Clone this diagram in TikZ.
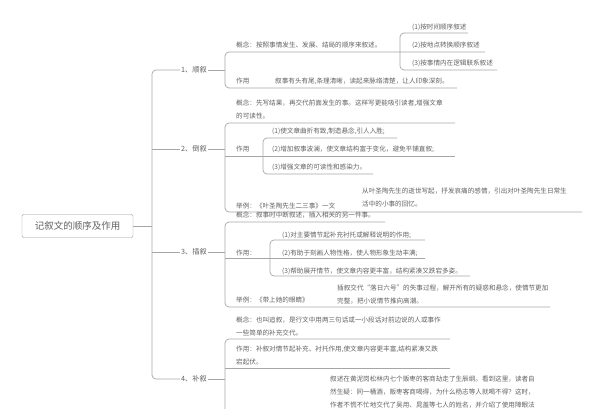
\documentclass[tikz,border=0pt]{standalone}
\usepackage{fontspec}
\setmainfont{Noto Sans CJK SC}
\begin{document}
\begin{tikzpicture}[x=1pt,y=-1pt,
  t/.style={anchor=base west,inner sep=0pt,text=black!62,font=\fontsize{6.6}{12.8}\selectfont,align=left},
  tm/.style={t,anchor=north west,yshift=6pt},
  ln/.style={draw=black!35,line width=0.7pt,rounded corners=4pt},
  lbl/.style={anchor=center,inner sep=1pt,text=black!62,font=\fontsize{7.2}{9}\selectfont}]
\useasboundingbox (0,0) rectangle (600,409);
% root
\node[draw=black!40,rounded corners=2pt,minimum width=111pt,minimum height=23pt,text=black!62,font=\fontsize{9.5}{11}\selectfont] (root) at (77.5,226) {记叙文的顺序及作用};
\node[lbl] (l1) at (194,70) {1、顺叙};
\node[lbl] (l2) at (194,149) {2、倒叙};
\node[lbl] (l3) at (194,252) {3、插叙};
\node[lbl] (l4) at (194,379) {4、补叙};
\draw[ln] (root.east) -- (152,226);
\draw[ln] (l1.west) -- (152,70) -- (152,379) -- (l4.west);
\draw[ln] (152,149) -- (l2.west);
\draw[ln] (152,252) -- (l3.west);
\foreach \n in {l1,l2,l3,l4} \draw[ln] (\n.east) -- ++(12,0);
% ---- 1 顺叙
\draw[ln] (l1.east)++(12,0) -- (225,70);
\draw[ln] (225,70) -- (225,52) -- (485,52);
\draw[ln] (225,70) -- (225,88) -- (457,88);
\node[t] (a1) at (236,48) {概念：按照事情发生、发展、结局的顺序来叙述。};
\node[t] (a2) at (236,84) {作用};
\node[t] (a3) at (275,84) {叙事有头有尾,条理清晰，读起来脉络清楚，让人印象深刻。};
\draw[ln] (468,33) -- (400,33) -- (400,70) -- (497,70);
\node[t] (a4) at (412,30) {(1)按时间顺序叙述};
\node[t] (a5) at (412,48) {(2)按地点转换顺序叙述};
\node[t] (a6) at (412,66) {(3)按事情内在逻辑联系叙述};
% ---- 2 倒叙
\node[tm] (b1) at (236,106) {概念：先写结果，再交代前面发生的事。这样写更能吸引读者,增强文章\\的可读性。};
\draw[ln] (l2.east)++(12,0) -- (225,149);
\draw[ln] (455,123) -- (225,123) -- (225,212) -- (582,212);
\draw[ln] (225,156) -- (455,156);
\node[t] (b2) at (236,152) {作用};
\draw[ln] (397,138) -- (263,138) -- (263,174) -- (373,174);
\node[t] (b3) at (272,134) {(1)使文章曲折有致,制造悬念,引人入胜;};
\node[t] (b4) at (272,152) {(2)增加叙事波澜，使文章结构富于变化，避免平铺直叙;};
\node[t] (b5) at (272,170) {(3)增强文章的可读性和感染力。};
\node[t] (b6) at (236,208) {举例：《叶圣陶先生二三事》一文};
\node[tm] (b7) at (362,194) {从叶圣陶先生的逝世写起，抒发哀痛的感情，引出对叶圣陶先生日常生\\活中的小事的回忆。};
% ---- 3 插叙
\node[t] (c1) at (236,218) {概念：叙事时中断叙述，插入相关的另一件事。};
\draw[ln] (l3.east)++(12,0) -- (225,252);
\draw[ln] (385,222) -- (225,222) -- (225,307) -- (550,307);
\draw[ln] (225,258) -- (425,258);
\node[t] (c2) at (236,255) {作用：};
\draw[ln] (425,240) -- (270,240) -- (270,276) -- (470,276);
\node[t] (c3) at (282,237) {(1)对主要情节起补充衬托或解释说明的作用;};
\node[t] (c4) at (282,255) {(2)有助于刻画人物性格，使人物形象生动丰满;};
\node[t] (c5) at (282,273) {(3)帮助展开情节，使文章内容更丰富，结构紧凑又跌宕多姿。};
\node[t] (c6) at (236,302) {举例：《带上她的眼睛》};
\node[tm] (c7) at (337,291) {插叙交代“落日六号”的失事过程，解开所有的疑惑和悬念，使情节更加\\完整，把小说情节推向高潮。};
% ---- 4 补叙
\node[tm] (d1) at (236,323) {概念：也叫追叙，是行文中用两三句话或一小段话对前边说的人或事作\\一些简单的补充交代。};
\draw[ln] (l4.east)++(12,0) -- (225,379);
\draw[ln] (450,339) -- (225,339) -- (225,420);
\draw[ln] (225,368) -- (450,368);
\node[tm] (d2) at (236,352) {作用：补叙对情节起补充、衬托作用,使文章内容更丰富,结构紧凑又跌\\宕起伏。};
\node[tm] (d3) at (330,382) {叙述在黄泥岗松林内七个贩枣的客商劫走了生辰纲。看到这里，读者自\\然生疑：同一桶酒，贩枣客商喝得，为什么杨志等人就喝不得？这时，\\作者不慌不忙地交代了吴用、晁盖等七人的姓名，并介绍了使用障眼法};
\end{tikzpicture}
\end{document}
